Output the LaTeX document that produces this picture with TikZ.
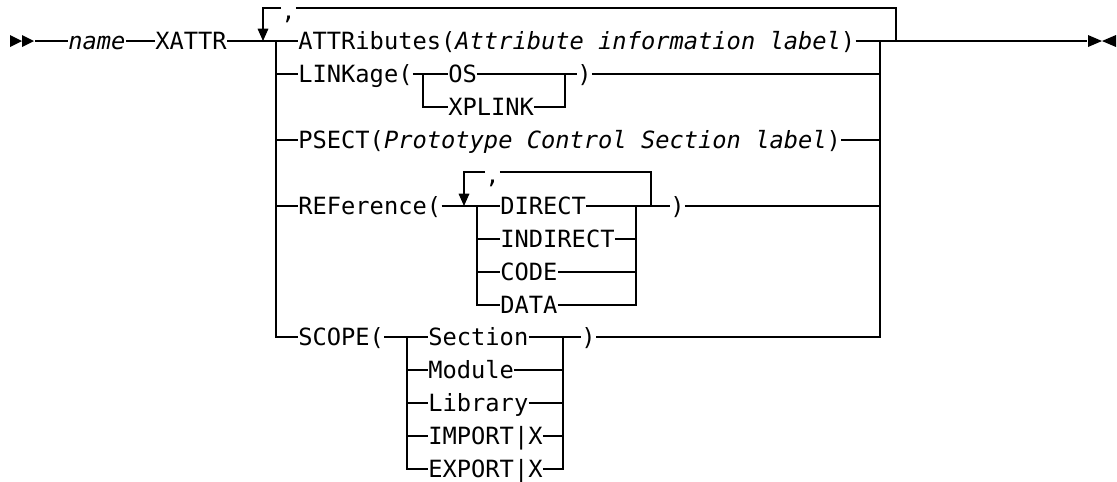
\documentclass[tikz,border=0pt]{standalone}
\usepackage{fontspec}
\setmonofont{DejaVu Sans Mono}
\usetikzlibrary{arrows.meta}

\begin{document}
\begin{tikzpicture}[x=0.02cm, y=-0.02cm,
  kw/.style={anchor=west, inner sep=0pt, text height=9.4pt, text depth=0pt, font=\ttfamily\fontsize{13.5}{16}\selectfont},
  sep/.style={anchor=base west, inner sep=0pt, font=\ttfamily\fontsize{13.5}{16}\selectfont},
  rail/.style={line width=0.9pt},
  rep/.style={line width=0.9pt, -{Triangle[length=7pt, width=6pt]}}
]
\useasboundingbox (0,0) rectangle (1117,481);

\coordinate (start) at (35,41);
\coordinate (fin) at (1087,41);
\coordinate (ch1) at (276,41);
\coordinate (ch2) at (880,41);
\coordinate (lp0) at (263,41);
\coordinate (lp1) at (896,41);
\coordinate (lt0) at (263,8);
\coordinate (lt1) at (896,8);

\node[kw] (name) at (68,41) {\itshape name};
\node[kw] (xattr) at (155,41) {XATTR};
\node[sep] (c1) at (281,19) {,};

\node[kw] (attr) at (298,41) {ATTRibutes(\textit{Attribute information label})};
\node[kw] (link) at (298,74) {LINKage(};
\node[kw] (os) at (448,74) {OS};
\node[kw] (xpl) at (448,107) {XPLINK};
\node[kw] (lkc) at (577,74) {)};
\node[kw] (psect) at (298,140) {PSECT(\textit{Prototype Control Section label})};
\node[kw] (ref) at (298,206) {REFerence(};
\node[sep] (c2) at (485,183) {,};
\node[kw] (direct) at (500,206) {DIRECT};
\node[kw] (indirect) at (500,239) {INDIRECT};
\node[kw] (code) at (500,272) {CODE};
\node[kw] (data) at (500,305) {DATA};
\node[kw] (rfc) at (670,206) {)};
\node[kw] (scope) at (298,337) {SCOPE(};
\node[kw] (section) at (428,337) {Section};
\node[kw] (module) at (428,370) {Module};
\node[kw] (library) at (428,403) {Library};
\node[kw] (import) at (428,436) {IMPORT|X};
\node[kw] (export) at (428,469) {EXPORT|X};
\node[kw] (scc) at (581,337) {)};

\coordinate (lk1) at (423,74);
\coordinate (lk2) at (565,74);
\coordinate (rf0) at (464,206);
\coordinate (rf1) at (477,206);
\coordinate (rf2) at (636,206);
\coordinate (rf3) at (651,206);
\coordinate (rt0) at (464,172);
\coordinate (rt1) at (651,172);
\coordinate (sc1) at (407,337);
\coordinate (sc2) at (563,337);

\fill (10,35) -- (22,41) -- (10,47) -- cycle;
\fill (22,35) -- (34,41) -- (22,47) -- cycle;
\fill (1088,35) -- (1102,41) -- (1088,47) -- cycle;
\fill (1116,35) -- (1102,41) -- (1116,47) -- cycle;

\draw[rail] (start) -- (name);
\draw[rail] (name) -- (xattr);
\draw[rail] (xattr) -- (attr);
\draw[rail] (attr) -- (fin);
\draw[rep] (c1.west |- lt0) -- (lt0) -- (lp0);
\draw[rail] (c1.east |- lt1) -- (lt1) -- (lp1);

\draw[rail] (ch1) -- (ch1 |- scope) -- (scope);
\draw[rail] (ch1 |- link) -- (link);
\draw[rail] (ch1 |- psect) -- (psect);
\draw[rail] (ch1 |- ref) -- (ref);
\draw[rail] (ch2) -- (ch2 |- scc) -- (scc);
\draw[rail] (lkc) -- (ch2 |- lkc);
\draw[rail] (psect) -- (ch2 |- psect);
\draw[rail] (rfc) -- (ch2 |- rfc);

\draw[rail] (link) -- (os);
\draw[rail] (os) -- (lkc);
\draw[rail] (lk1) -- (lk1 |- xpl) -- (xpl);
\draw[rail] (xpl) -- (lk2 |- xpl) -- (lk2);

\draw[rail] (ref) -- (direct);
\draw[rail] (direct) -- (rfc);
\draw[rep] (c2.west |- rt0) -- (rt0) -- (rf0);
\draw[rail] (c2.east |- rt1) -- (rt1) -- (rf3);
\draw[rail] (rf1) -- (rf1 |- data) -- (data);
\draw[rail] (rf1 |- indirect) -- (indirect);
\draw[rail] (rf1 |- code) -- (code);
\draw[rail] (data) -- (rf2 |- data) -- (rf2);
\draw[rail] (indirect) -- (rf2 |- indirect);
\draw[rail] (code) -- (rf2 |- code);

\draw[rail] (scope) -- (section);
\draw[rail] (section) -- (scc);
\draw[rail] (sc1) -- (sc1 |- export) -- (export);
\draw[rail] (sc1 |- module) -- (module);
\draw[rail] (sc1 |- library) -- (library);
\draw[rail] (sc1 |- import) -- (import);
\draw[rail] (export) -- (sc2 |- export) -- (sc2);
\draw[rail] (module) -- (sc2 |- module);
\draw[rail] (library) -- (sc2 |- library);
\draw[rail] (import) -- (sc2 |- import);
\end{tikzpicture}
\end{document}
